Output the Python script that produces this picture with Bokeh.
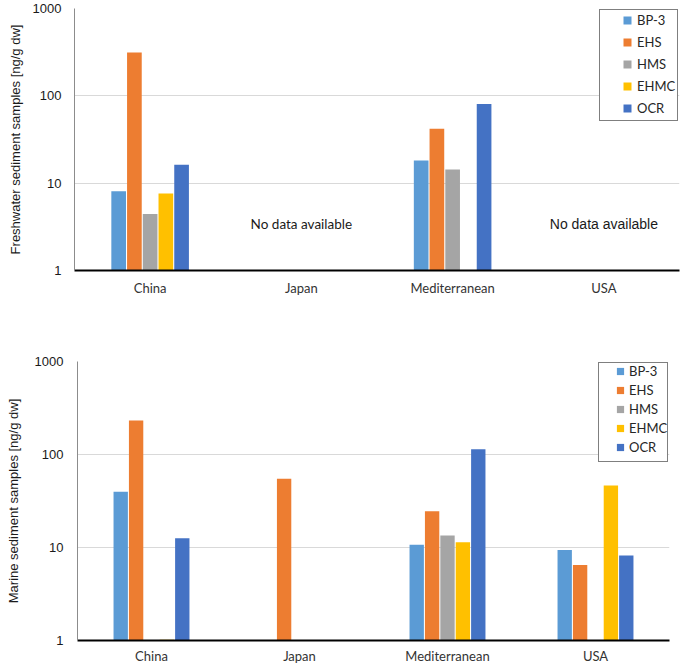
from bokeh.plotting import figure
from bokeh.models import (ColumnDataSource, FactorRange, FixedTicker,
                          NumeralTickFormatter, Legend, LegendItem)
from bokeh.transform import dodge
from bokeh.core.properties import value
from bokeh.embed import file_html
from bokeh.resources import INLINE

# ---------------- data ----------------
categories = ["China", "Japan", "Mediterranean", "USA"]
compounds = ["BP-3", "EHS", "HMS", "EHMC", "OCR"]
colors = ["#5B9BD5", "#ED7D31", "#A5A5A5", "#FFC000", "#4472C4"]

# Freshwater sediment samples [ng/g dw]
fresh_bp3 = [8.1, None, 18.2, None]
fresh_ehs = [314, None, 42, None]
fresh_hms = [4.45, None, 14.3, None]
fresh_ehmc = [7.6, None, None, None]
fresh_ocr = [16.3, None, 80.7, None]

# Marine sediment samples [ng/g dw]
marine_bp3 = [39.7, None, 10.7, 9.4]
marine_ehs = [232, 55, 24.6, 6.5]
marine_hms = [None, None, 13.5, None]
marine_ehmc = [1.02, None, 11.4, 46.5]
marine_ocr = [12.6, None, 114, 8.2]

y_ticks = [1, 10, 100, 1000]
note_text = "No data available"

fresh = [fresh_bp3, fresh_ehs, fresh_hms, fresh_ehmc, fresh_ocr]
marine = [marine_bp3, marine_ehs, marine_hms, marine_ehmc, marine_ocr]

BAR_PITCH = 0.104
BAR_W = 0.097
W = 685


def build(series, ylabel, cfg):
    p = figure(x_range=FactorRange(factors=categories), y_axis_type="log",
               y_range=(1, 1000), width=W, height=cfg["h"],
               min_border_left=cfg["ml"], min_border_right=cfg["mr"],
               min_border_top=cfg["mt"], min_border_bottom=cfg["mb"],
               output_backend="svg", toolbar_location=None)
    p.outline_line_color = None
    p.background_fill_color = "white"
    p.border_fill_color = "white"

    items = []
    box_r = None
    for i, (name, vals) in enumerate(zip(compounds, series)):
        xs = [c for c, v in zip(categories, vals) if v is not None]
        ys = [v for v in vals if v is not None]
        src = ColumnDataSource(dict(cat=xs, val=ys))
        xpos = dodge("cat", (i - 2) * BAR_PITCH, range=p.x_range)
        p.vbar(x=xpos, top="val", bottom=1, width=BAR_W, source=src,
               fill_color=colors[i], line_color=None)
        # zero-size marker renderer, used only for the legend swatch
        r = p.scatter(x=xpos, y="val", source=src, marker="square", size=0,
                      fill_color=colors[i], line_color=None)
        items.append(LegendItem(label=name, renderers=[r]))
        if box_r is None:
            box_r = p.scatter(x=xpos, y="val", source=src, size=0,
                              fill_alpha=0, line_alpha=0)

    # y axis
    ticker = FixedTicker(ticks=y_ticks, minor_ticks=[])
    p.yaxis.ticker = ticker
    p.ygrid.ticker = ticker
    p.yaxis.formatter = NumeralTickFormatter(format="0")
    p.yaxis.axis_line_color = "#8c8c8c"
    p.yaxis.axis_line_width = 1
    p.yaxis.major_tick_line_color = None
    p.yaxis.minor_tick_line_color = None
    p.yaxis.major_tick_in = 0
    p.yaxis.major_tick_out = 0
    p.yaxis.minor_tick_in = 0
    p.yaxis.minor_tick_out = 0
    p.yaxis.major_label_standoff = cfg["yls"]
    p.yaxis.major_label_text_font = "Liberation Sans"
    p.yaxis.major_label_text_font_size = "13px"
    p.yaxis.major_label_text_color = "#1a1a1a"
    p.yaxis.axis_label = ylabel
    p.yaxis.axis_label_text_font = "Liberation Sans"
    p.yaxis.axis_label_text_font_size = "13px"
    p.yaxis.axis_label_text_font_style = "normal"
    p.yaxis.axis_label_text_color = "#1a1a1a"
    p.yaxis.axis_label_standoff = cfg["yas"]

    p.ygrid.grid_line_color = "#d9d9d9"
    p.ygrid.grid_line_width = 1
    p.xgrid.grid_line_color = None

    # x axis
    p.xaxis.axis_line_color = "black"
    p.xaxis.axis_line_width = 2
    p.xaxis.major_tick_line_color = None
    p.xaxis.major_tick_in = 0
    p.xaxis.major_tick_out = 0
    p.xaxis.major_label_standoff = cfg["xls"]
    p.xaxis.major_label_text_font = "Lato"
    p.xaxis.major_label_text_font_size = "13px"
    p.xaxis.major_label_text_color = "#333333"

    # legend frame (box only)
    box = Legend(items=[LegendItem(label=" ", renderers=[box_r])],
                 location="top_right", margin=1, padding=1, spacing=0,
                 glyph_width=cfg["bgw"], glyph_height=cfg["bh"],
                 label_height=cfg["bh"], label_width=cfg["blw"],
                 label_standoff=0, border_line_color="black",
                 border_line_width=1, background_fill_color="white",
                 background_fill_alpha=1, label_text_font_size="2px")
    p.add_layout(box)
    # legend entries
    leg = Legend(items=items, location="top_right", margin=cfg["lm"], padding=0,
                 spacing=cfg["sp"], glyph_width=cfg["g"], glyph_height=cfg["g"],
                 label_height=cfg["g"], label_width=cfg["lw"],
                 label_standoff=0, border_line_color=None,
                 background_fill_alpha=0, label_text_font="Lato",
                 label_text_font_size="13px", label_text_color="#262626")
    p.add_layout(leg)
    return p


p1 = build(fresh, "Freshwater sediment samples [ng/g dw]",
           dict(h=331, ml=74, mr=6, mt=8, mb=61, yls=13, yas=7, xls=9,
                bgw=20, bh=108, blw=55, lm=2, sp=2, g=20, lw=40))
p2 = build(marine, "Marine sediment samples [ng/g dw]",
           dict(h=335, ml=77, mr=16, mt=30, mb=25, yls=14, yas=11, xls=7,
                bgw=18, bh=96, blw=48, lm=1, sp=1, g=18, lw=39))

# "No data available" notes for regions without freshwater data
no_data = [c for j, c in enumerate(categories) if all(s[j] is None for s in fresh)]
p1.text(x=[no_data[0]], y=[3.45], text=[note_text], text_align="center",
        text_baseline="middle", text_font=value("Lato"),
        text_font_size="13.5px", text_color="#1a1a1a")
p1.text(x=[no_data[1]], y=[3.45], text=[note_text], text_align="center",
        text_baseline="middle", text_font=value("Liberation Sans"),
        text_font_size="14px", text_color="#1a1a1a")

# two independent roots, stacked (so the two frames are not forced to align)
open("out.html", "w").write(file_html([p1, p2], INLINE))
